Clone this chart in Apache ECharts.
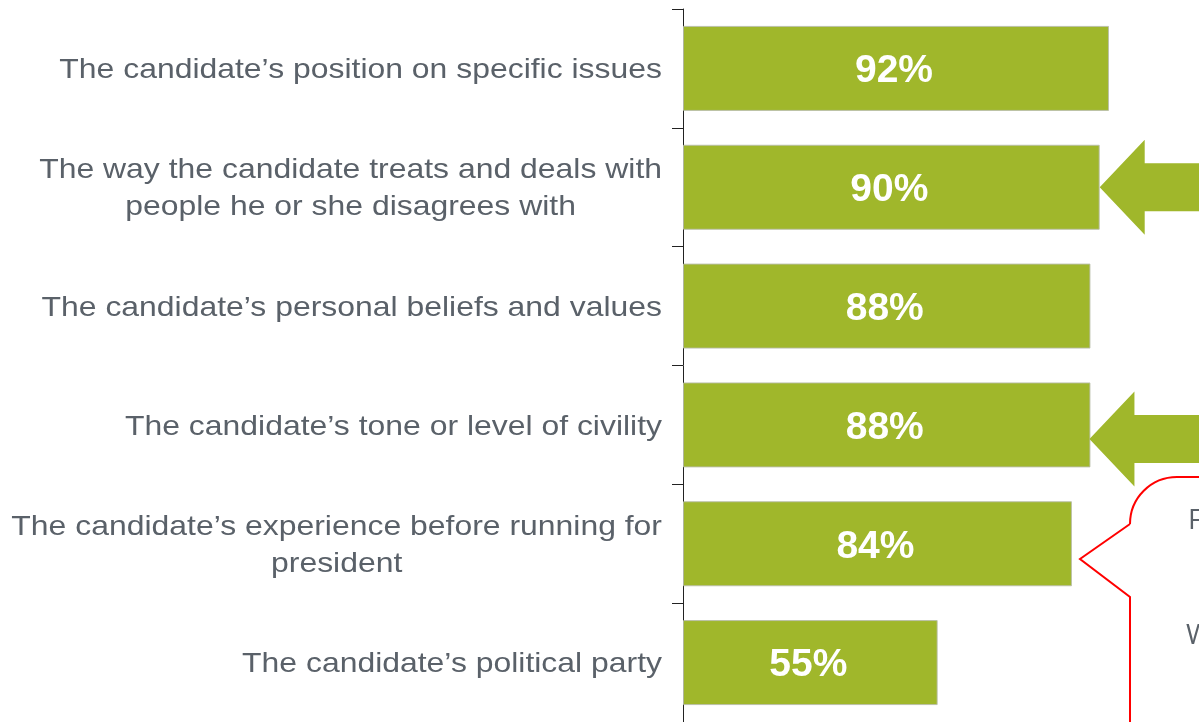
<!DOCTYPE html>
<html>
<head>
<meta charset="utf-8">
<script src="https://cdn.jsdelivr.net/npm/echarts@6/dist/echarts.min.js"></script>
<style>
html,body{margin:0;padding:0;background:#fff;}
#main{width:1199px;height:722px;}
</style>
</head>
<body>
<div id="main"></div>
<script>
const categories = [
  "The candidate\u2019s position on specific issues",
  "The way the candidate treats and deals with\npeople he or she disagrees with",
  "The candidate\u2019s personal beliefs and values",
  "The candidate\u2019s tone or level of civility",
  "The candidate\u2019s experience before running for\npresident",
  "The candidate\u2019s political party"
];
const values = [92, 90, 88, 88, 84, 55];
const arrowTargets = [1, 3];
const calloutLines = ["F", "W"];

const GREEN = '#a0b72b';
const TEXT = '#5a6169';
const LABEL_FONT = '28px "Liberation Sans"';
const LABEL_STRETCH = 1.14;

const chart = echarts.init(document.getElementById('main'), null, {renderer: 'canvas'});
const option = {
  animation: false,
  backgroundColor: '#ffffff',
  grid: {left: 683, top: 9, width: 463, height: 714},
  xAxis: {type: 'value', min: 0, max: 100, show: false},
  yAxis: {
    type: 'category',
    inverse: true,
    data: categories,
    axisLine: {show: true, lineStyle: {color: '#222', width: 1}},
    axisTick: {show: true, length: 11, lineStyle: {color: '#222', width: 1}},
    axisLabel: {show: false},
    splitLine: {show: false}
  },
  series: [{
    type: 'bar',
    data: values,
    barWidth: 85,
    itemStyle: {color: GREEN, borderColor: 'rgba(185,190,170,0.9)', borderWidth: 1},
    label: {
      show: true,
      position: 'inside',
      offset: [-2, 3],
      formatter: '{c}%',
      color: '#ffffff',
      fontFamily: 'Liberation Sans',
      fontWeight: 'bold',
      fontSize: 39
    }
  }]
};
chart.setOption(option);

const graphics = [];

// Category labels (stretched horizontally like the reference), each line centred within its block,
// block right-aligned 20px left of the axis.
const ctx = document.createElement('canvas').getContext('2d');
ctx.font = LABEL_FONT;
const axisX = chart.convertToPixel({xAxisIndex: 0}, 0);
categories.forEach(function (cat, i) {
  const cy = chart.convertToPixel({yAxisIndex: 0}, i) + 2;
  const lines = cat.split('\n');
  const widths = lines.map(function (l) { return ctx.measureText(l).width * LABEL_STRETCH; });
  const maxW = Math.max.apply(null, widths);
  const cx = axisX - 21 - maxW / 2;
  const lh = 37;
  lines.forEach(function (l, j) {
    const y = cy + (j - (lines.length - 1) / 2) * lh;
    graphics.push({
      type: 'text',
      x: cx, y: y,
      scaleX: LABEL_STRETCH, scaleY: 1,
      style: {text: l, font: LABEL_FONT, fill: TEXT, align: 'center', verticalAlign: 'middle'},
      silent: true
    });
  });
});

// Arrows pointing at selected bars, tip placed at the bar end from the data scale
const arrowOffsets = [0, 14];
arrowTargets.forEach(function (idx, k) {
  const p = chart.convertToPixel({seriesIndex: 0}, [values[idx], idx]);
  const tipX = p[0] - (k === 1 ? 1 : 0);
  const cy = p[1] + arrowOffsets[k];
  const headW = 45, headH = 47.5, shaftH = 24;
  graphics.push({
    type: 'polygon',
    shape: {points: [
      [tipX, cy],
      [tipX + headW, cy - headH],
      [tipX + headW, cy - shaftH],
      [1260, cy - shaftH],
      [1260, cy + shaftH],
      [tipX + headW, cy + shaftH],
      [tipX + headW, cy + headH]
    ]},
    style: {fill: GREEN},
    z: 10
  });
});

// Callout outline (red speech bubble, cut off at the right edge)
const RED = '#ff0000';
graphics.push({
  type: 'polyline',
  shape: {points: [[1260, 477], [1177, 477]]},
  style: {stroke: RED, lineWidth: 2, fill: null}, z: 10
});
graphics.push({
  type: 'bezierCurve',
  shape: {x1: 1177, y1: 477, cpx1: 1151, cpy1: 477, cpx2: 1130, cpy2: 498, x2: 1130, y2: 524},
  style: {stroke: RED, lineWidth: 2, fill: null}, z: 10
});
graphics.push({
  type: 'polyline',
  shape: {points: [[1130, 524], [1080, 559], [1130, 597], [1130, 740]]},
  style: {stroke: RED, lineWidth: 2, fill: null}, z: 10
});
graphics.push({
  type: 'text', x: 1188, y: 521,
  style: {text: calloutLines[0], font: '28px "Open Sans"', fill: TEXT, verticalAlign: 'middle'},
  z: 11
});
graphics.push({
  type: 'text', x: 1186, y: 636,
  style: {text: calloutLines[1], font: '28px "Open Sans"', fill: TEXT, verticalAlign: 'middle'},
  z: 11
});
chart.setOption({graphic: graphics});
</script>
</body>
</html>
